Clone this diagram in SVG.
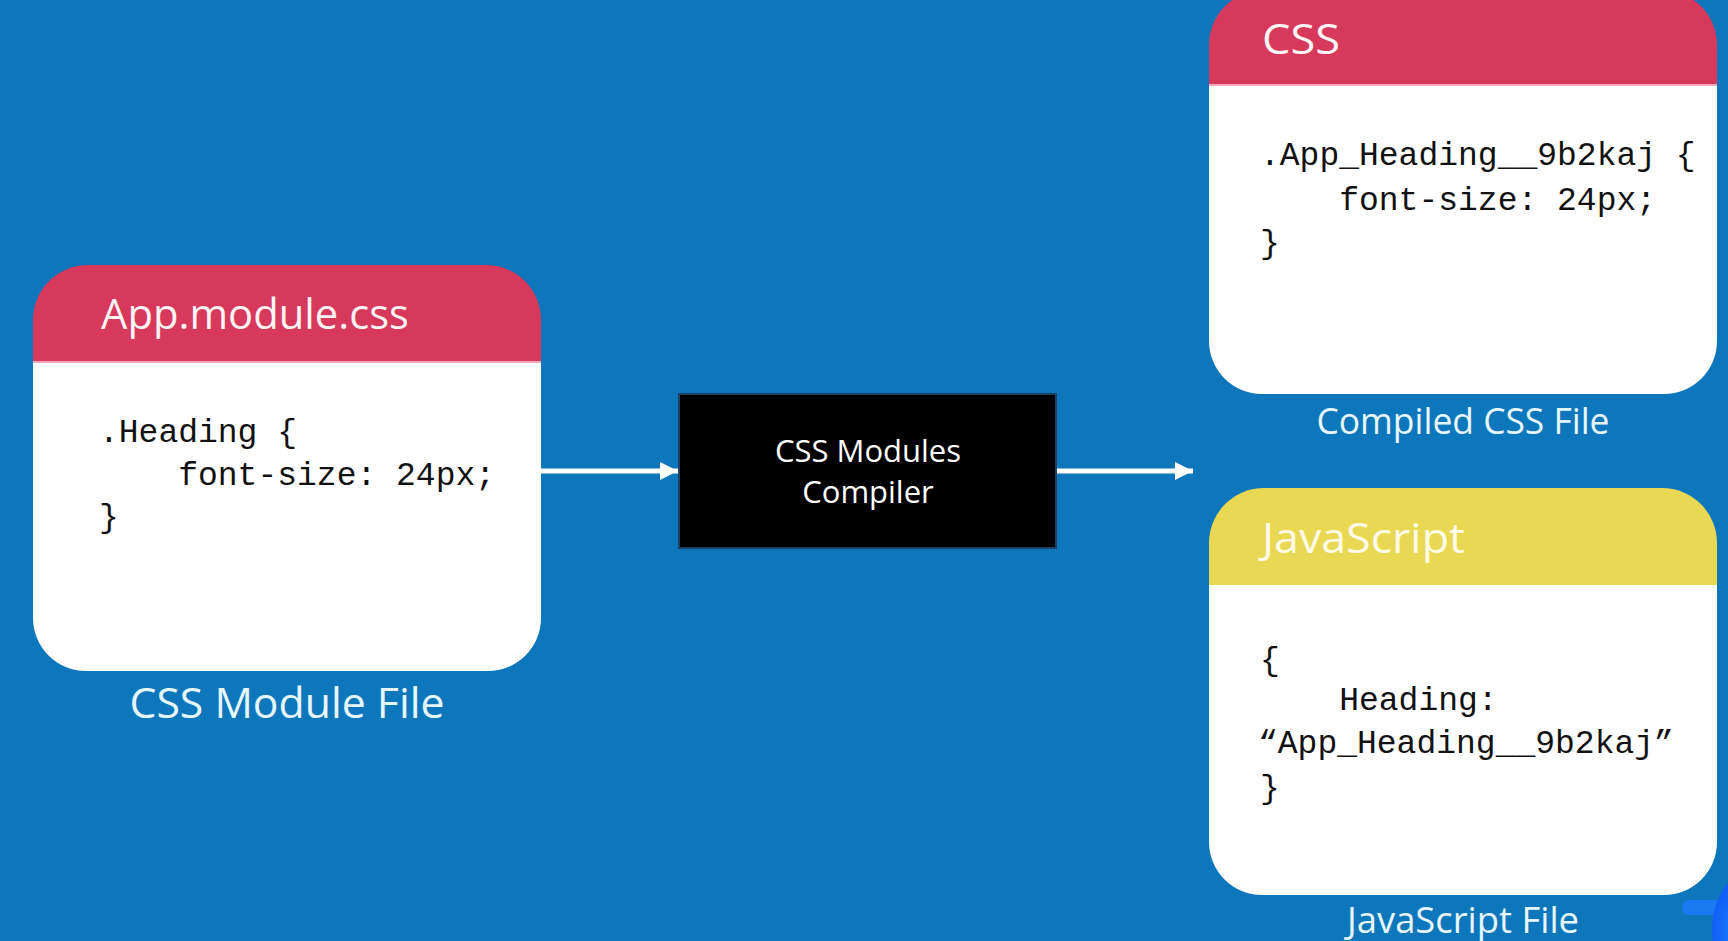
<svg xmlns="http://www.w3.org/2000/svg" width="1728" height="941" viewBox="0 0 1728 941">
<style>
.hdr-red{fill:#d6395b}
.hdr-yel{fill:#e8d853}
.body{fill:#ffffff}
.sep{stroke:#f7a6bb;stroke-width:2}
.title{font-family:"Open Sans","Noto Sans",sans-serif;font-size:42px;fill:#fff3f6}
.code{font-family:"Liberation Mono","DejaVu Sans Mono",monospace;font-size:33px;fill:#111111}
.label{font-family:"Open Sans","Noto Sans",sans-serif;font-size:37px;fill:#e6f6ff;text-anchor:middle}
.ctext{font-family:"Open Sans","Noto Sans",sans-serif;font-size:31px;fill:#ffffff;text-anchor:middle}
.conn{stroke:#ffffff;stroke-width:5;fill:none}
</style>
<defs>
<marker id="ah" markerUnits="userSpaceOnUse" markerWidth="18" markerHeight="18" refX="18" refY="9" orient="auto">
<path d="M0,0 L18,9 L0,18 Z" fill="#ffffff"/>
</marker>
<radialGradient id="blob" cx="0.4" cy="0.5" r="0.6">
<stop offset="0" stop-color="#1e8cff"/>
<stop offset="1" stop-color="#0a48f0"/>
</radialGradient>
</defs>
<rect x="0" y="0" width="1728" height="941" fill="#0e76bb"/>

<g id="connectors">
<line class="conn" x1="541" y1="471" x2="678" y2="471" marker-end="url(#ah)"/>
<line class="conn" x1="1056" y1="471" x2="1193" y2="471" marker-end="url(#ah)"/>
</g>

<g id="css-module-file">
<path class="hdr-red" d="M33,362 V320 A55,55 0 0 1 88,265 H486 A55,55 0 0 1 541,320 V362 Z"/>
<path class="body" d="M33,362 H541 V618 A53,53 0 0 1 488,671 H86 A53,53 0 0 1 33,618 Z"/>
<line class="sep" x1="33" y1="362" x2="541" y2="362"/>
<text class="title" x="101" y="329" textLength="308" lengthAdjust="spacingAndGlyphs">App.module.css</text>
<text class="code" x="99" y="442">.Heading {</text>
<text class="code" x="99" y="485" xml:space="preserve">    font-size: 24px;</text>
<text class="code" x="99" y="527">}</text>
<text class="label" x="287" y="718" style="font-size:42px" textLength="315" lengthAdjust="spacingAndGlyphs">CSS Module File</text>
</g>

<g id="compiler">
<rect x="679" y="394" width="377" height="154" fill="#000000" stroke="#1f3f66" stroke-width="2"/>
<text class="ctext" x="868" y="462">CSS Modules</text>
<text class="ctext" x="868" y="503">Compiler</text>
</g>

<g id="compiled-css">
<path class="hdr-red" d="M1209,85 V45 A55,55 0 0 1 1264,-10 H1662 A55,55 0 0 1 1717,45 V85 Z"/>
<path class="body" d="M1209,85 H1717 V341 A53,53 0 0 1 1664,394 H1262 A53,53 0 0 1 1209,341 Z"/>
<line class="sep" x1="1209" y1="85" x2="1717" y2="85"/>
<text class="title" x="1262" y="54" textLength="78" lengthAdjust="spacingAndGlyphs">CSS</text>
<text class="code" x="1260" y="165">.App_Heading__9b2kaj {</text>
<text class="code" x="1260" y="210" xml:space="preserve">    font-size: 24px;</text>
<text class="code" x="1260" y="253">}</text>
<text class="label" x="1463" y="434" textLength="293" lengthAdjust="spacingAndGlyphs">Compiled CSS File</text>
</g>

<g id="javascript">
<path class="hdr-yel" d="M1209,585 V543 A55,55 0 0 1 1264,488 H1662 A55,55 0 0 1 1717,543 V585 Z"/>
<path class="body" d="M1209,585 H1717 V842 A53,53 0 0 1 1664,895 H1262 A53,53 0 0 1 1209,842 Z"/>
<text class="title" x="1262" y="553" style="fill:#fffbe6" textLength="203" lengthAdjust="spacingAndGlyphs">JavaScript</text>
<text class="code" x="1260" y="670">{</text>
<text class="code" x="1260" y="710" xml:space="preserve">    Heading:</text>
<text class="code" x="1258" y="753">“App_Heading__9b2kaj”</text>
<text class="code" x="1260" y="798">}</text>
<text class="label" x="1463" y="933" textLength="232" lengthAdjust="spacingAndGlyphs">JavaScript File</text>
</g>

<g id="corner-blob">
<rect x="1682" y="900" width="44" height="15" rx="7" fill="#1a7af2"/>
<ellipse cx="1758" cy="930" rx="46" ry="62" fill="url(#blob)"/>
</g>
</svg>
